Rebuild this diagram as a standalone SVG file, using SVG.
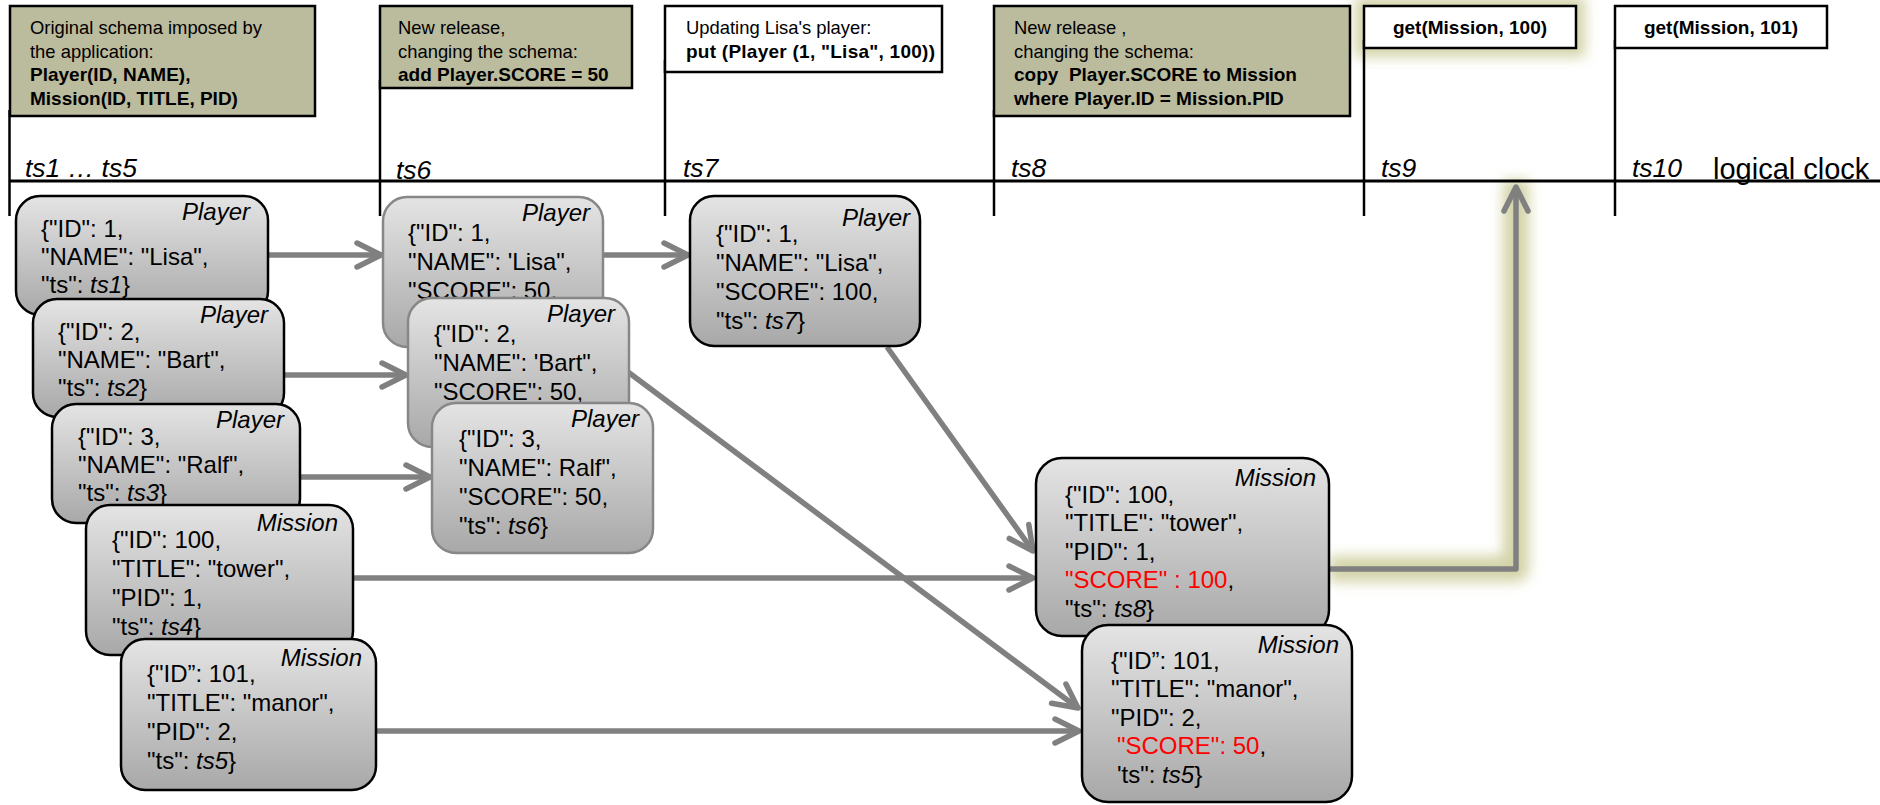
<svg xmlns="http://www.w3.org/2000/svg" width="1880" height="805" viewBox="0 0 1880 805">
  <defs>
    <style>
      text { font-family: "Liberation Sans", Arial, sans-serif; fill: #000; }
      .note { font-size: 18.4px; }
      .b { font-weight: bold; font-size: 19px; }
      .ts { font-size: 26.5px; font-style: italic; }
      .clock { font-size: 29px; }
      .doc { font-size: 24px; }
      .lbl { font-size: 24px; font-style: italic; text-anchor: end; }
      .it { font-style: italic; }
      .red { fill: #ff0000; }
      .box-olive { fill: #bbbb9d; stroke: #000; stroke-width: 2.5; }
      .box-white { fill: #fff; stroke: #000; stroke-width: 2.5; }
      .tick { stroke: #000; stroke-width: 2.5; fill: none; }
      .card { fill: url(#cardFill); stroke: #000; stroke-width: 2.5; }
      .card-old { fill: url(#cardFill); stroke: #878787; stroke-width: 2.5; }
      .flow { fill: none; stroke: #808080; stroke-width: 5.5; marker-end: url(#chevron); }
      .glow { fill: none; stroke: #d3d3a8; filter: url(#soft); }
    </style>
    <linearGradient id="cardFill" x1="0" y1="0" x2="0" y2="1">
      <stop offset="0" stop-color="#e4e4e4"/>
      <stop offset="1" stop-color="#a8a8a8"/>
    </linearGradient>
    <marker id="chevron" markerUnits="userSpaceOnUse" viewBox="-30 -16 34 32" markerWidth="34" markerHeight="32" refX="0" refY="0" orient="auto">
      <path d="M-24,-12 L0,0 L-24,12" fill="none" stroke="#808080" stroke-width="5.5" stroke-linecap="round" stroke-linejoin="round"/>
    </marker>
    <filter id="soft" x="-50%" y="-50%" width="200%" height="200%">
      <feGaussianBlur stdDeviation="6.5"/>
    </filter>
  </defs>

  <rect width="1880" height="805" fill="#fff"/>

  <!-- highlight halos behind the read request and its result path -->
  <g id="halos">
    <rect class="glow" x="1364" y="6" width="212" height="42" stroke-width="18" fill="#d3d3a8"/>
    <path class="glow" d="M1329,569 H1516 V180" stroke-width="26" stroke-linejoin="round"/>
  </g>

  <!-- logical clock axis with event ticks -->
  <g id="timeline">
    <line x1="9" y1="181" x2="1880" y2="181" stroke="#000" stroke-width="3"/>
    <line class="tick" x1="9.5" y1="110" x2="9.5" y2="216"/>
    <line class="tick" x1="380" y1="80" x2="380" y2="216"/>
    <line class="tick" x1="665" y1="60" x2="665" y2="216"/>
    <line class="tick" x1="994" y1="110" x2="994" y2="216"/>
    <line class="tick" x1="1364" y1="40" x2="1364" y2="216"/>
    <line class="tick" x1="1615" y1="40" x2="1615" y2="216"/>
    <text class="ts" x="25" y="177">ts1 … ts5</text>
    <text class="ts" x="396" y="179">ts6</text>
    <text class="ts" x="683" y="177">ts7</text>
    <text class="ts" x="1011" y="177">ts8</text>
    <text class="ts" x="1381" y="177">ts9</text>
    <text class="ts" x="1632" y="177">ts10</text>
    <text class="clock" x="1713" y="179">logical clock</text>
  </g>

  <!-- event notes above the axis -->
  <g id="note-ts1">
    <rect class="box-olive" x="10" y="6" width="305" height="110"/>
    <text class="note" x="30" y="34">Original schema imposed by</text>
    <text class="note" x="30" y="57.5">the application:</text>
    <text class="note b" x="30" y="81">Player(ID, NAME),</text>
    <text class="note b" x="30" y="104.5">Mission(ID, TITLE, PID)</text>
  </g>
  <g id="note-ts6">
    <rect class="box-olive" x="380" y="6" width="252" height="82"/>
    <text class="note" x="398" y="34">New release,</text>
    <text class="note" x="398" y="57.5">changing the schema:</text>
    <text class="note b" x="398" y="81">add Player.SCORE = 50</text>
  </g>
  <g id="note-ts7">
    <rect class="box-white" x="665" y="6" width="277" height="66"/>
    <text class="note" x="686" y="34">Updating Lisa's player:</text>
    <text class="note b" x="686" y="57.5" textLength="249" lengthAdjust="spacing">put (Player (1, "Lisa", 100))</text>
  </g>
  <g id="note-ts8">
    <rect class="box-olive" x="994" y="6" width="356" height="110"/>
    <text class="note" x="1014" y="34">New release ,</text>
    <text class="note" x="1014" y="57.5">changing the schema:</text>
    <text class="note b" x="1014" y="81" style="white-space:pre">copy  Player.SCORE to Mission</text>
    <text class="note b" x="1014" y="104.5">where Player.ID = Mission.PID</text>
  </g>
  <g id="note-ts9">
    <rect class="box-white" x="1364" y="6" width="212" height="42"/>
    <text class="note b" x="1470" y="34" text-anchor="middle">get(Mission, 100)</text>
  </g>
  <g id="note-ts10">
    <rect class="box-white" x="1615" y="6" width="212" height="42"/>
    <text class="note b" x="1721" y="34" text-anchor="middle">get(Mission, 101)</text>
  </g>

  <!-- version flow between documents -->
  <g id="connectors">
    <path class="flow" d="M269,255 H381"/>
    <path class="flow" d="M284,375 H406"/>
    <path class="flow" d="M300,477 H430"/>
    <path class="flow" d="M603,255 H688"/>
    <path class="flow" d="M628,372 L1078,708"/>
    <path class="flow" d="M887,347 L1033,551"/>
    <path class="flow" d="M353,578 H1033"/>
    <path class="flow" d="M376,731 H1079"/>
    <path class="flow" d="M1329,569 H1516 V187" stroke-linejoin="round"/>
  </g>

  <!-- documents written at ts1 ... ts5 -->
  <g id="player-1-ts1">
    <rect class="card" x="16" y="196" width="252" height="119" rx="24"/>
    <text class="lbl" x="250" y="220">Player</text>
    <text class="doc" x="41" y="237">{"ID": 1,</text>
    <text class="doc" x="41" y="265">"NAME": "Lisa",</text>
    <text class="doc" x="41" y="293">"ts": <tspan class="it">ts1</tspan>}</text>
  </g>
  <g id="player-2-ts2">
    <rect class="card" x="33" y="299" width="251" height="118" rx="24"/>
    <text class="lbl" x="268" y="323">Player</text>
    <text class="doc" x="58" y="340">{"ID": 2,</text>
    <text class="doc" x="58" y="368">"NAME": "Bart",</text>
    <text class="doc" x="58" y="396">"ts": <tspan class="it">ts2</tspan>}</text>
  </g>
  <g id="player-3-ts3">
    <rect class="card" x="52" y="404" width="248" height="119" rx="24"/>
    <text class="lbl" x="284" y="428">Player</text>
    <text class="doc" x="78" y="445">{"ID": 3,</text>
    <text class="doc" x="78" y="473">"NAME": "Ralf",</text>
    <text class="doc" x="78" y="501">"ts": <tspan class="it">ts3</tspan>}</text>
  </g>
  <g id="mission-100-ts4">
    <rect class="card" x="86" y="505" width="267" height="150" rx="24"/>
    <text class="lbl" x="338" y="531">Mission</text>
    <text class="doc" x="112" y="548">{"ID": 100,</text>
    <text class="doc" x="112" y="577">"TITLE": "tower",</text>
    <text class="doc" x="112" y="606">"PID": 1,</text>
    <text class="doc" x="112" y="635">"ts": <tspan class="it">ts4</tspan>}</text>
  </g>
  <g id="mission-101-ts5">
    <rect class="card" x="121" y="639" width="255" height="151" rx="24"/>
    <text class="lbl" x="362" y="666">Mission</text>
    <text class="doc" x="147" y="682">{"ID”: 101,</text>
    <text class="doc" x="147" y="711">"TITLE": "manor",</text>
    <text class="doc" x="147" y="740">"PID": 2,</text>
    <text class="doc" x="147" y="769">"ts": <tspan class="it">ts5</tspan>}</text>
  </g>

  <!-- players after the SCORE migration at ts6 -->
  <g id="player-1-ts6">
    <rect class="card-old" x="383" y="197" width="220" height="150" rx="24"/>
    <text class="lbl" x="590" y="221">Player</text>
    <text class="doc" x="408" y="241">{"ID": 1,</text>
    <text class="doc" x="408" y="270">"NAME": 'Lisa",</text>
    <text class="doc" x="408" y="299">"SCORE": 50,</text>
  </g>
  <g id="player-2-ts6">
    <rect class="card-old" x="408" y="298" width="221" height="149" rx="24"/>
    <text class="lbl" x="615" y="322">Player</text>
    <text class="doc" x="434" y="342">{"ID": 2,</text>
    <text class="doc" x="434" y="371">"NAME": 'Bart",</text>
    <text class="doc" x="434" y="400">"SCORE": 50,</text>
  </g>
  <g id="player-3-ts6">
    <rect class="card-old" x="432" y="403" width="221" height="150" rx="24"/>
    <text class="lbl" x="639" y="427">Player</text>
    <text class="doc" x="459" y="447">{"ID": 3,</text>
    <text class="doc" x="459" y="476">"NAME": Ralf",</text>
    <text class="doc" x="459" y="505">"SCORE": 50,</text>
    <text class="doc" x="459" y="534">"ts": <tspan class="it">ts6</tspan>}</text>
  </g>

  <!-- Lisa's update at ts7 -->
  <g id="player-1-ts7">
    <rect class="card" x="690" y="196" width="230" height="150" rx="24"/>
    <text class="lbl" x="910" y="226">Player</text>
    <text class="doc" x="716" y="242">{"ID": 1,</text>
    <text class="doc" x="716" y="271">"NAME": "Lisa",</text>
    <text class="doc" x="716" y="300">"SCORE": 100,</text>
    <text class="doc" x="716" y="329">"ts": <tspan class="it">ts7</tspan>}</text>
  </g>

  <!-- missions carrying the copied SCORE -->
  <g id="mission-100-ts8">
    <rect class="card" x="1036" y="458" width="293" height="178" rx="26"/>
    <text class="lbl" x="1316" y="486">Mission</text>
    <text class="doc" x="1065" y="503">{"ID": 100,</text>
    <text class="doc" x="1065" y="531">"TITLE": "tower",</text>
    <text class="doc" x="1065" y="560">"PID": 1,</text>
    <text class="doc" x="1065" y="588"><tspan class="red">"SCORE" : 100</tspan>,</text>
    <text class="doc" x="1065" y="617">"ts": <tspan class="it">ts8</tspan>}</text>
  </g>
  <g id="mission-101-ts5-read">
    <rect class="card" x="1082" y="625" width="270" height="177" rx="26"/>
    <text class="lbl" x="1339" y="653">Mission</text>
    <text class="doc" x="1111" y="669">{"ID”: 101,</text>
    <text class="doc" x="1111" y="697">"TITLE": "manor",</text>
    <text class="doc" x="1111" y="726">"PID": 2,</text>
    <text class="doc" x="1117" y="754"><tspan class="red">"SCORE": 50</tspan>,</text>
    <text class="doc" x="1117" y="783">'ts": <tspan class="it">ts5</tspan>}</text>
  </g>
</svg>
